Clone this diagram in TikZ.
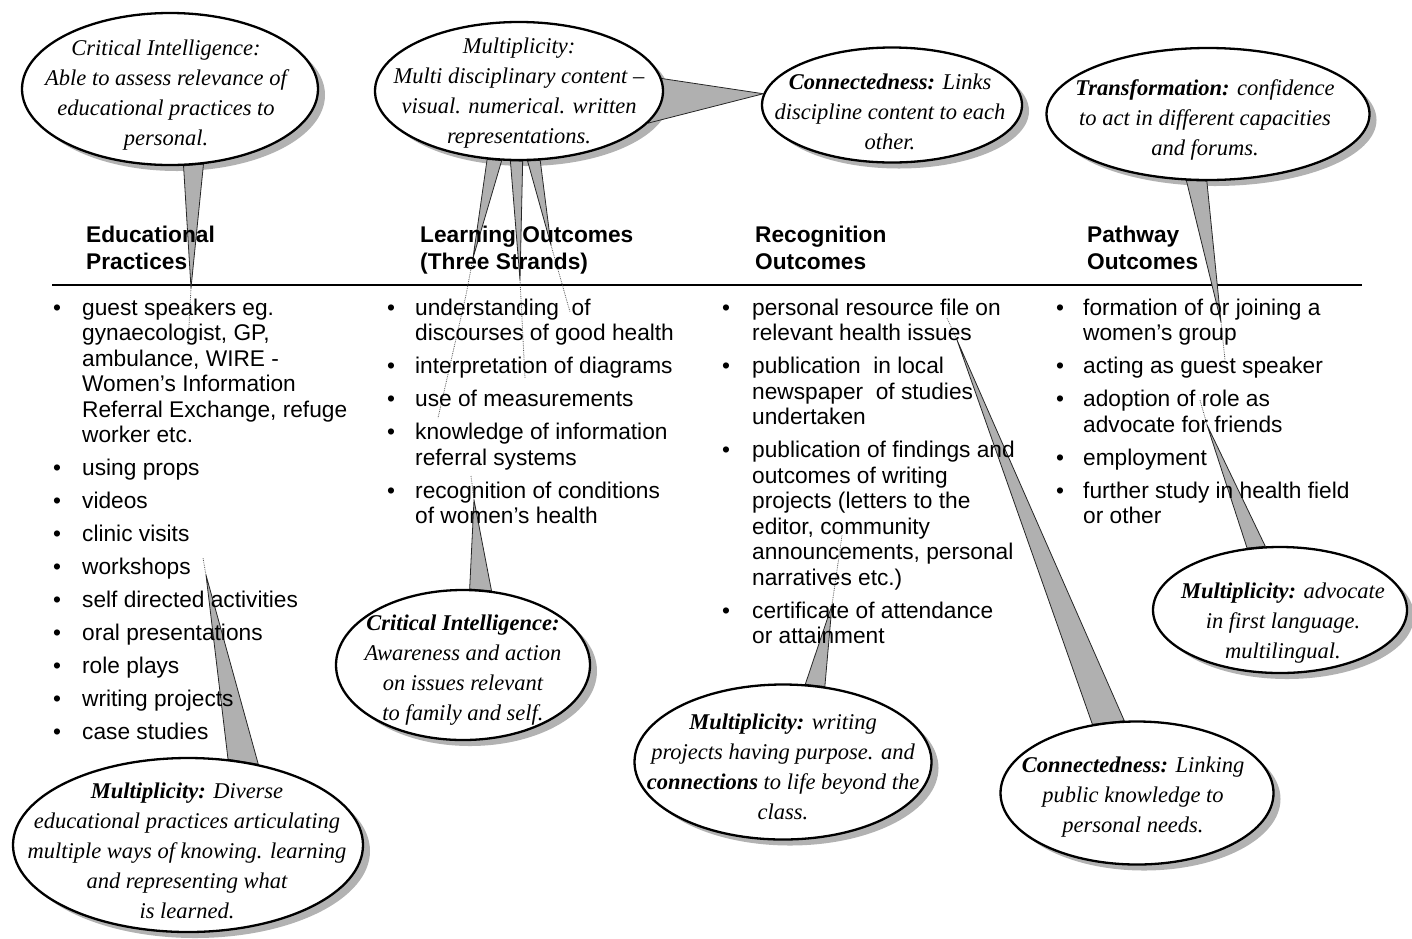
\documentclass[tikz,border=0pt]{standalone}
\usepackage{fontspec}
\setmainfont{Liberation Sans}
\newfontfamily\handfont{Liberation Serif}
\usetikzlibrary{shapes.geometric}
\pgfdeclarelayer{bg}
\pgfsetlayers{bg,main}
\newcommand{\mybul}[1]{\makebox[#1pt][l]{\textbullet}}
\begin{document}
\begin{tikzpicture}[x=1pt,y=-1pt,
  bubble/.style={ellipse, draw=black, line width=2.3pt, fill=white, inner sep=0pt},
  bshadow/.style={ellipse, fill=gray!60, draw=none, inner sep=0pt},
  tail/.style={fill=gray!62, draw=black!85, line width=0.8pt, line join=round},
  trail/.style={draw=black!65, line width=0.8pt, densely dotted},
  btext/.style={align=center, inner sep=0pt, font=\handfont\itshape\fontsize{22.5}{30}\selectfont},
  head/.style={anchor=base west, inner sep=0pt, font=\bfseries\fontsize{22.7}{27}\selectfont},
  col/.style={anchor=base west, inner sep=0pt, font=\fontsize{22.7}{25.5}\selectfont}]
\useasboundingbox (0,0) rectangle (1412,938);

% ---- callout ellipses
\node[bubble, minimum width=296pt, minimum height=152pt] (A) at (170,89) {};
\node[bubble, minimum width=288pt, minimum height=138pt] (B) at (519,91) {};
\node[bubble, minimum width=260pt, minimum height=115pt] (C) at (892,105) {};
\node[bubble, minimum width=323pt, minimum height=132pt] (D) at (1208,114) {};
\node[bubble, minimum width=254pt, minimum height=150pt] (E) at (463,665) {};
\node[bubble, minimum width=350pt, minimum height=174pt] (F) at (188,845) {};
\node[bubble, minimum width=297pt, minimum height=155pt] (G) at (783,762) {};
\node[bubble, minimum width=273pt, minimum height=143pt] (H) at (1137,793) {};
\node[bubble, minimum width=254pt, minimum height=126pt] (I) at (1280,610) {};

% ---- tail tips and trail ends
\coordinate (tA) at (191,288);   \coordinate (tA2) at (188,345);
\coordinate (tB1) at (473,258);  \coordinate (tB1b) at (466,295); \coordinate (tB1c) at (438,418);
\coordinate (tB2) at (520,280);  \coordinate (tB22) at (525,378);
\coordinate (tB3) at (551,245);  \coordinate (tB32) at (570,312);
\coordinate (tD) at (1221,322);  \coordinate (tD2) at (1225,360);
\coordinate (tE) at (474,500);   \coordinate (tE2) at (471,476);
\coordinate (tF) at (206,575);   \coordinate (tF2) at (203,558);
\coordinate (tG) at (832,605);   \coordinate (tG2) at (842,535);
\coordinate (tH) at (957,340);   \coordinate (tH2) at (947,318);
\coordinate (tI) at (1207,425);  \coordinate (tI2) at (1200,400);
\coordinate (L0) at (52,285);    \coordinate (L1) at (1362,285);

\begin{pgfonlayer}{bg}
  % shadows
  \node[bshadow, minimum width=296pt, minimum height=152pt] (As) at ([shift={(7,6)}]A.center) {};
  \node[bshadow, minimum width=288pt, minimum height=138pt] (Bs) at ([shift={(7,6)}]B.center) {};
  \node[bshadow, minimum width=260pt, minimum height=115pt] (Cs) at ([shift={(7,6)}]C.center) {};
  \node[bshadow, minimum width=323pt, minimum height=132pt] (Ds) at ([shift={(7,6)}]D.center) {};
  \node[bshadow, minimum width=254pt, minimum height=150pt] (Es) at ([shift={(7,6)}]E.center) {};
  \node[bshadow, minimum width=350pt, minimum height=174pt] (Fs) at ([shift={(7,6)}]F.center) {};
  \node[bshadow, minimum width=297pt, minimum height=155pt] (Gs) at ([shift={(7,6)}]G.center) {};
  \node[bshadow, minimum width=273pt, minimum height=143pt] (Hs) at ([shift={(7,6)}]H.center) {};
  \node[bshadow, minimum width=254pt, minimum height=126pt] (Is) at ([shift={(7,6)}]I.center) {};
  % rule under headings
  \draw[line width=2pt] (L0) -- (L1);
  % tails
  \draw[tail] (A.-80) -- (tA) -- (A.-66) -- cycle;
  \draw[tail] (B.-115) -- (tB1) -- (B.-104) -- cycle;
  \draw[tail] (B.-97) -- (tB2) -- (B.-87) -- cycle;
  \draw[tail] (B.-83) -- (tB3) -- (B.-73) -- cycle;
  \draw[tail] (B.5) -- (C.175) -- (B.-14) -- cycle;
  \draw[tail] (D.-108) -- (tD) -- (D.-91) -- cycle;
  \draw[tail] (E.85) -- (tE) -- (E.69) -- cycle;
  \draw[tail] (F.65) -- (tF) -- (F.49) -- cycle;
  \draw[tail] (G.74) -- (tG) -- (G.61) -- cycle;
  \draw[tail] (H.123) -- (tH) -- (H.100) -- cycle;
  \draw[tail] (I.118) -- (tI) -- (I.103) -- cycle;
  % faint trails
  \draw[trail] (tA) -- (tA2);
  \draw[trail] (tB1) -- (tB1b) -- (tB1c);
  \draw[trail] (tB2) -- (tB22);
  \draw[trail] (tB3) -- (tB32);
  \draw[trail] (tD) -- (tD2);
  \draw[trail] (tE) -- (tE2);
  \draw[trail] (tF) -- (tF2);
  \draw[trail] (tG) -- (tG2);
  \draw[trail] (tH) -- (tH2);
  \draw[trail] (tI) -- (tI2);
\end{pgfonlayer}

% ---- callout texts
\node[btext] (At) at (166,95) {Critical Intelligence:\\Able to assess relevance of\\educational practices to\\personal.};
\node[btext] (Bt) at (519,93) {Multiplicity:\\Multi disciplinary content –\\visual. numerical. written\\representations.};
\node[btext] (Ct) at (890,112) {\textbf{Connectedness:} Links\\discipline content to each\\other.};
\node[btext] (Dt) at (1205,120) {\textbf{Transformation:} confidence\\to act in different capacities\\and forums.};
\node[btext] (Et) at (463,670) {\textbf{Critical Intelligence:}\\Awareness and action\\on issues relevant\\to family and self.};
\node[btext] (Ft) at (187,851) {\textbf{Multiplicity:} Diverse\\educational practices articulating\\multiple ways of knowing. learning\\and representing what\\is learned.};
\node[btext] (Gt) at (783,767) {\textbf{Multiplicity:} writing\\projects having purpose. and\\\textbf{connections} to life beyond the\\class.};
\node[btext] (Ht) at (1133,797) {\textbf{Connectedness:} Linking\\public knowledge to\\personal needs.};
\node[btext] (It) at (1283,623) {\textbf{Multiplicity:} advocate\\in first language.\\multilingual.};

% ---- column headings
\node[head] (h1) at (86,242) {\begin{tabular}[t]{@{}l@{}}Educational\\Practices\end{tabular}};
\node[head] (h2) at (420,242) {\begin{tabular}[t]{@{}l@{}}Learning Outcomes\\(Three Strands)\end{tabular}};
\node[head] (h3) at (755,242) {\begin{tabular}[t]{@{}l@{}}Recognition\\Outcomes\end{tabular}};
\node[head] (h4) at (1087,242) {\begin{tabular}[t]{@{}l@{}}Pathway\\Outcomes\end{tabular}};

% ---- columns
\node[col] (c1) at (53,315) {\begin{tabular}[t]{@{}l@{}l@{}}
\mybul{29} & guest speakers eg.\\
 & gynaecologist, GP,\\
 & ambulance, WIRE -\\
 & Women’s Information\\
 & Referral Exchange, refuge\\
 & worker etc.\\[7.5pt]
\mybul{29} & using props\\[7.5pt]
\mybul{29} & videos\\[7.5pt]
\mybul{29} & clinic visits\\[7.5pt]
\mybul{29} & workshops\\[7.5pt]
\mybul{29} & self directed activities\\[7.5pt]
\mybul{29} & oral presentations\\[7.5pt]
\mybul{29} & role plays\\[7.5pt]
\mybul{29} & writing projects\\[7.5pt]
\mybul{29} & case studies
\end{tabular}};

\node[col] (c2) at (387,315) {\begin{tabular}[t]{@{}l@{}l@{}}
\mybul{28} & understanding \ of\\
 & discourses of good health\\[7.5pt]
\mybul{28} & interpretation of diagrams\\[7.5pt]
\mybul{28} & use of measurements\\[7.5pt]
\mybul{28} & knowledge of information\\
 & referral systems\\[7.5pt]
\mybul{28} & recognition of conditions\\
 & of women’s health
\end{tabular}};

\node[col] (c3) at (722,315) {\begin{tabular}[t]{@{}l@{}l@{}}
\mybul{30} & personal resource file on\\
 & relevant health issues\\[7.5pt]
\mybul{30} & publication \ in local\\
 & newspaper \ of studies\\
 & undertaken\\[7.5pt]
\mybul{30} & publication of findings and\\
 & outcomes of writing\\
 & projects (letters to the\\
 & editor, community\\
 & announcements, personal\\
 & narratives etc.)\\[7.5pt]
\mybul{30} & certificate of attendance\\
 & or attainment
\end{tabular}};

\node[col] (c4) at (1056,315) {\begin{tabular}[t]{@{}l@{}l@{}}
\mybul{27} & formation of or joining a\\
 & women’s group\\[7.5pt]
\mybul{27} & acting as guest speaker\\[7.5pt]
\mybul{27} & adoption of role as\\
 & advocate for friends\\[7.5pt]
\mybul{27} & employment\\[7.5pt]
\mybul{27} & further study in health field\\
 & or other
\end{tabular}};
\end{tikzpicture}
\end{document}
